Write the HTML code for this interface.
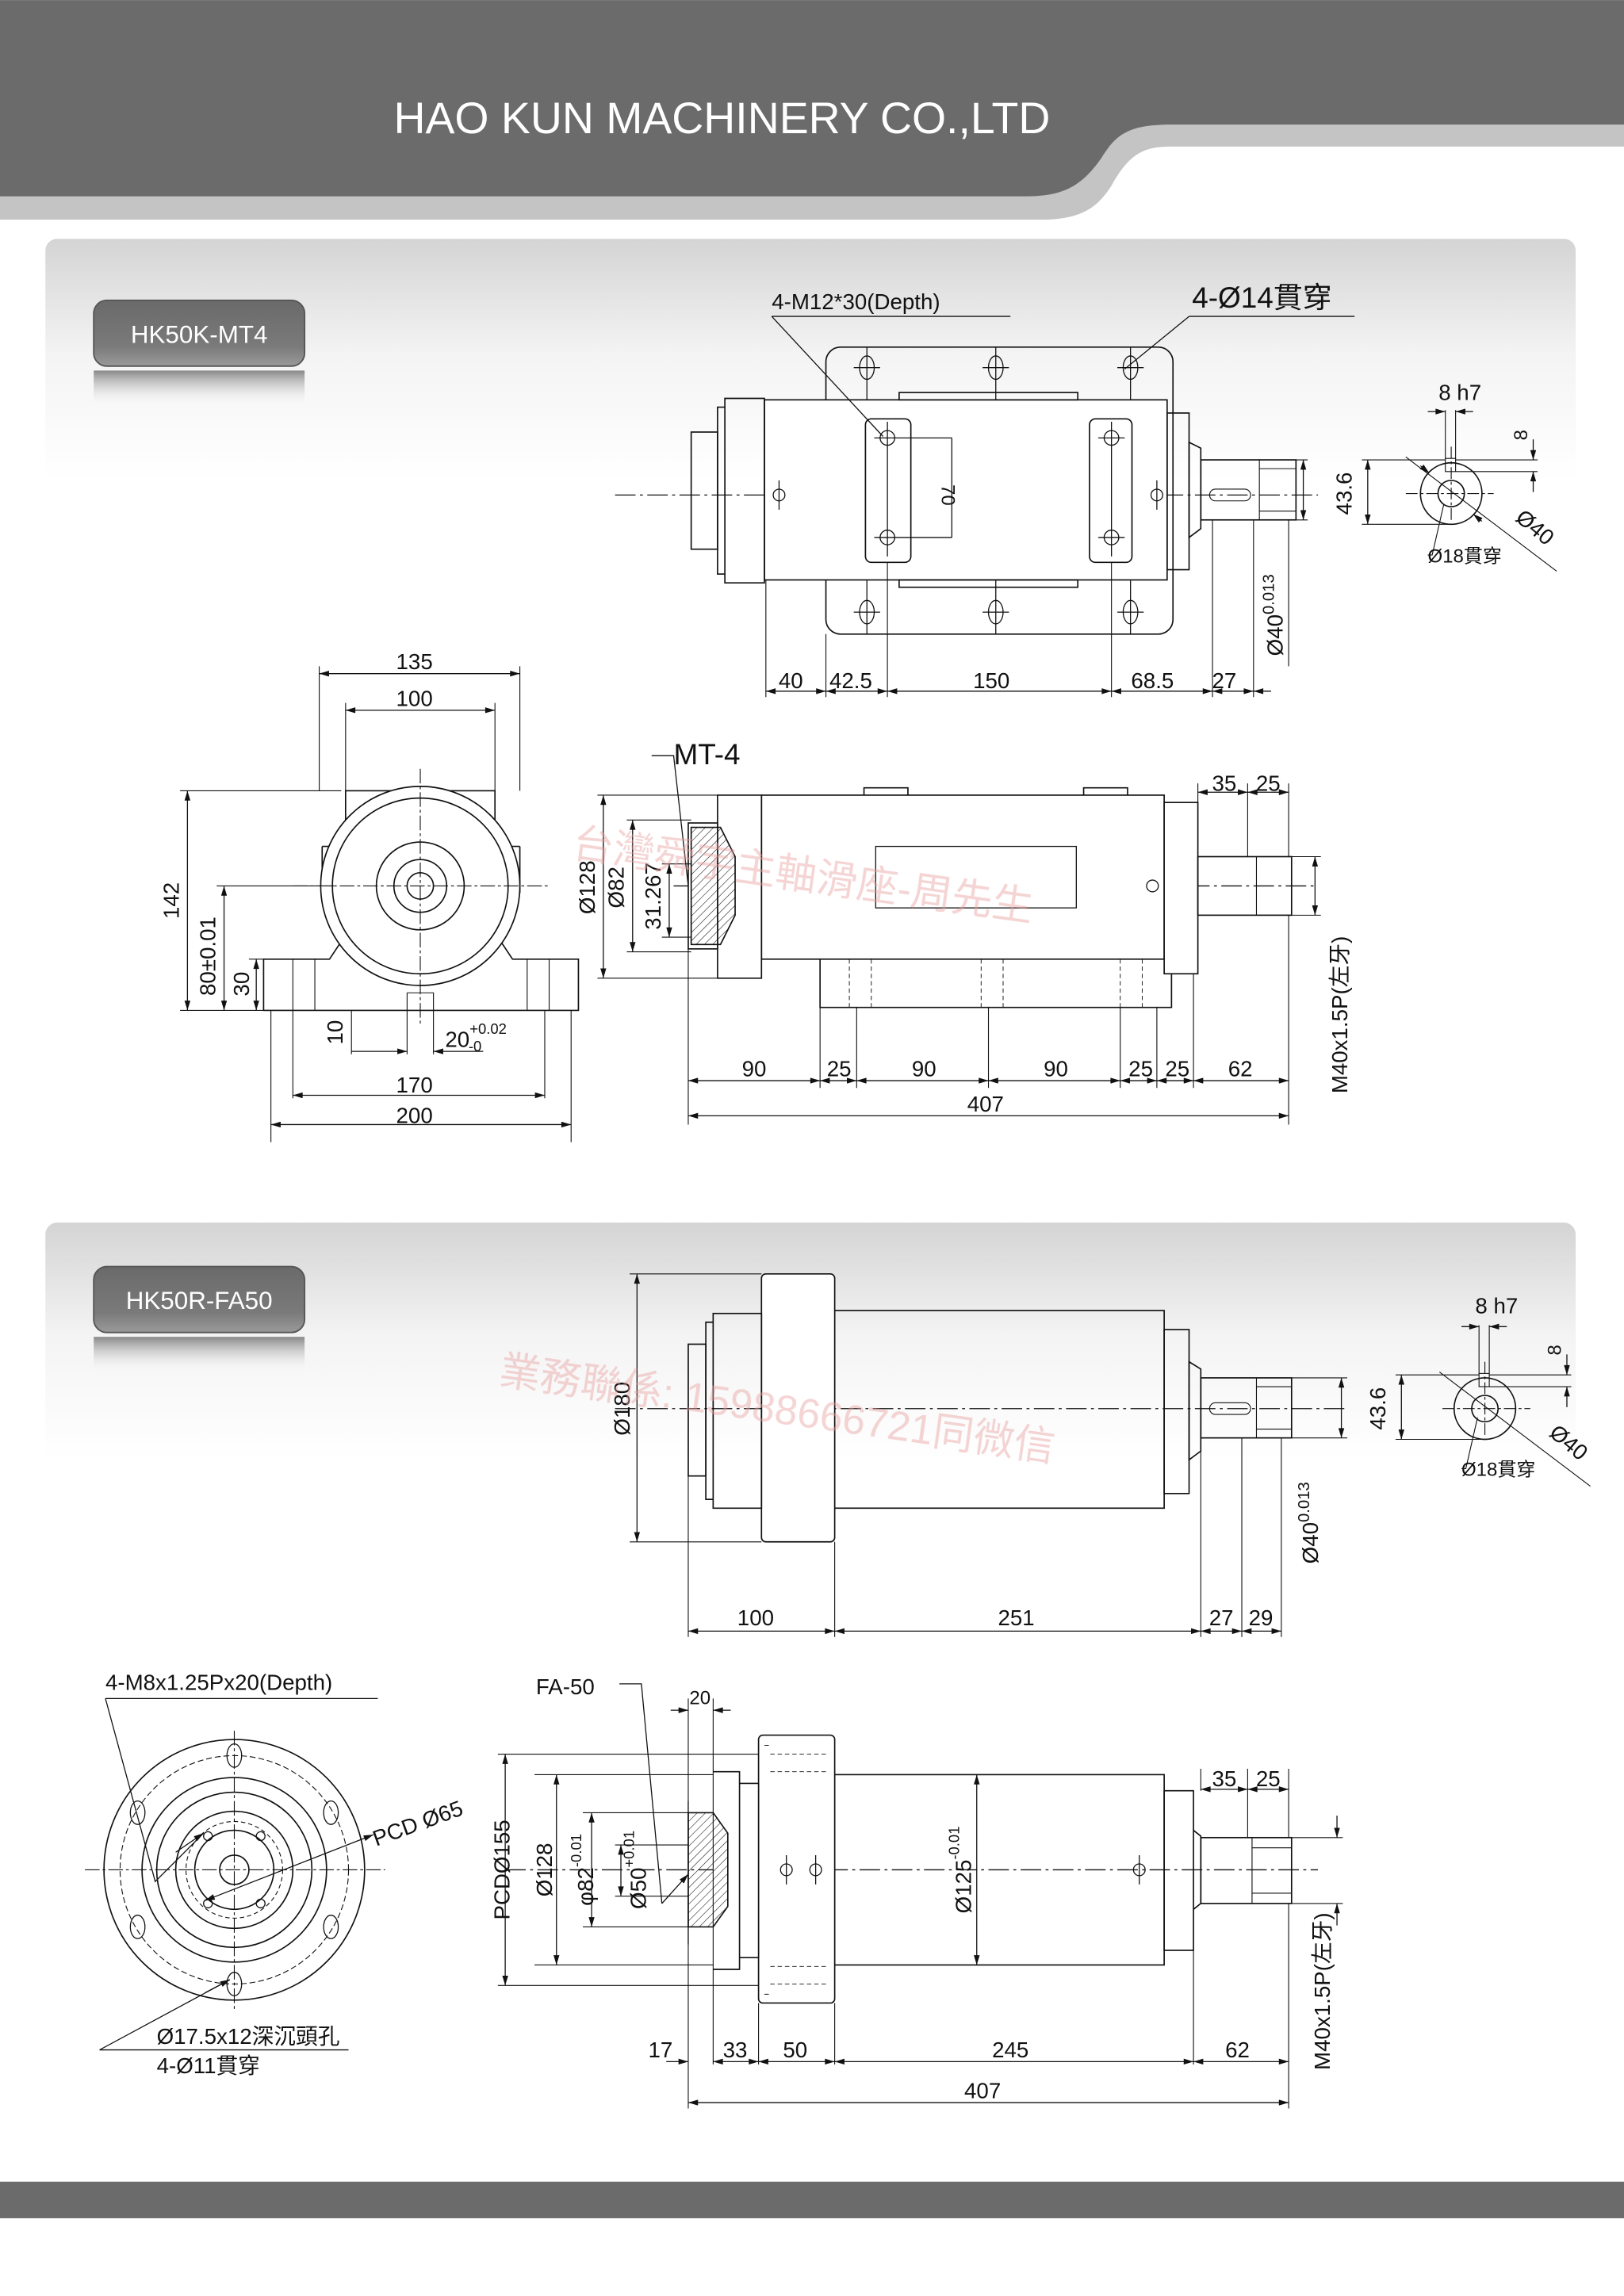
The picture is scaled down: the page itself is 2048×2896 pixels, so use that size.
<!DOCTYPE html>
<html><head><meta charset="utf-8"><style>
html,body{margin:0;padding:0;background:#fff}
svg{display:block}
text{font-family:"Liberation Sans","Noto Sans CJK TC",sans-serif;fill:#111}
</style></head><body>
<svg width="2048" height="2896" viewBox="0 0 1109 1568" xmlns="http://www.w3.org/2000/svg">
<defs>
<marker id="a" viewBox="0 0 10 6" refX="10" refY="3" markerWidth="7" markerHeight="4" orient="auto-start-reverse" markerUnits="userSpaceOnUse"><path d="M0,0L10,3L0,6z" fill="#111"/></marker>
<linearGradient id="pg" x1="0" y1="0" x2="0" y2="1"><stop offset="0" stop-color="#d4d4d4"/><stop offset="0.12" stop-color="#f4f4f4"/><stop offset="0.25" stop-color="#fff"/></linearGradient>
<linearGradient id="lb" x1="0" y1="0" x2="0" y2="1"><stop offset="0" stop-color="#6a6a6a"/><stop offset="0.7" stop-color="#7a7a7a"/><stop offset="1" stop-color="#9a9a9a"/></linearGradient>
<linearGradient id="rf" x1="0" y1="0" x2="0" y2="1"><stop offset="0" stop-color="#888"/><stop offset="1" stop-color="#fff" stop-opacity="0"/></linearGradient>
<pattern id="h" width="4" height="4" patternUnits="userSpaceOnUse" patternTransform="rotate(45)"><line x1="0" y1="0" x2="0" y2="4" stroke="#111" stroke-width="0.6"/></pattern>
</defs>
<!-- header -->
<rect x="0" y="0" width="1109" height="150" fill="#c4c4c4"/>
<path d="M0,0H1109V85H800C770,85 762,92 752,108C738,128 725,134 700,134H0z" fill="#6b6b6b"/>
<path d="M0,150H710C738,150 750,142 760,125C772,104 782,100 800,100H1109V160H0z" fill="#fff"/>
<text x="493" y="91" font-size="30" fill="#fff" style="fill:#fff" text-anchor="middle" font-family="DejaVu Sans">HAO KUN MACHINERY CO.,LTD</text>
<!-- panels -->
<rect x="31" y="163" width="1045" height="660" rx="8" fill="url(#pg)"/>
<rect x="31" y="835" width="1045" height="650" rx="8" fill="url(#pg)"/>
<rect x="64" y="205" width="144" height="45" rx="9" fill="url(#lb)" stroke="#555" stroke-width="1"/>
<rect x="64" y="253" width="144" height="25" fill="url(#rf)"/>
<text x="136" y="234" font-size="17" fill="#fff" style="fill:#fff" text-anchor="middle">HK50K-MT4</text>
<rect x="64" y="865" width="144" height="45" rx="9" fill="url(#lb)" stroke="#555" stroke-width="1"/>
<rect x="64" y="913" width="144" height="25" fill="url(#rf)"/>
<text x="136" y="894" font-size="17" fill="#fff" style="fill:#fff" text-anchor="middle">HK50R-FA50</text>
<rect x="0" y="1490" width="1109" height="25" fill="#6b6b6b"/>

<g fill="none" stroke="#111" stroke-width="0.9">
<!-- ====== Drawing 1 top view ====== -->
<line x1="420" y1="338" x2="900" y2="338" stroke-dasharray="14,3,2,3" stroke-width="0.7"/>
<rect x="564" y="237" width="237" height="196" rx="10"/>
<g stroke-width="0.7">
<ellipse cx="592" cy="251" rx="5" ry="8"/><ellipse cx="680" cy="251" rx="5" ry="8"/><ellipse cx="772" cy="251" rx="5" ry="8"/>
<ellipse cx="592" cy="418" rx="5" ry="8"/><ellipse cx="680" cy="418" rx="5" ry="8"/><ellipse cx="772" cy="418" rx="5" ry="8"/>
<path d="M583,251h18M671,251h18M763,251h18M583,418h18M671,418h18M763,418h18M592,237v36M680,237v36M772,237v36M592,396v37M680,396v37M772,396v37"/>
</g>
<rect x="522" y="273" width="275" height="123" fill="#fff"/>
<rect x="614" y="268" width="122" height="5"/><rect x="614" y="396" width="122" height="5"/>
<path d="M495,272h27v126h-27zM490,278h5v114h-5z"/>
<rect x="472" y="295" width="18" height="80"/>
<rect x="591" y="286" width="31" height="98" rx="4"/><rect x="744" y="286" width="29" height="98" rx="4"/>
<g stroke-width="0.7">
<circle cx="606" cy="299" r="5"/><circle cx="606" cy="367" r="5"/><circle cx="759" cy="299" r="5"/><circle cx="759" cy="367" r="5"/>
<circle cx="532" cy="338" r="4"/><circle cx="790" cy="338" r="4"/>
<path d="M597,299h18M597,367h18M750,299h18M750,367h18M606,288v92M759,288v92M532,328v20M790,328v20M614,299h36M614,367h36"/>
</g>
<line x1="650" y1="299" x2="650" y2="367" stroke-width="0.7"/>
<rect x="797" y="282" width="15" height="107"/>
<path d="M812,302l8,4v55l-8,6z"/>
<rect x="820" y="314" width="65" height="41"/>
<path d="M860,314v41M860,320h25M860,349h25" stroke-width="0.6"/>
<rect x="826" y="334" width="28" height="8" rx="4" stroke-width="0.6"/>
<path d="M885,314h8M885,355h8" stroke-width="0.6"/>
<line x1="890" y1="314" x2="890" y2="355" marker-start="url(#a)" marker-end="url(#a)" stroke-width="0.7"/>
<!-- dims -->
<path d="M523,396v80M564,433v43M606,384v92M759,384v92M828,355v121M856,355v121M880,355v100" stroke-width="0.6"/>
<g stroke-width="0.7">
<line x1="523" y1="472" x2="564" y2="472" marker-start="url(#a)" marker-end="url(#a)"/>
<line x1="564" y1="472" x2="606" y2="472" marker-start="url(#a)" marker-end="url(#a)"/>
<line x1="606" y1="472" x2="759" y2="472" marker-start="url(#a)" marker-end="url(#a)"/>
<line x1="759" y1="472" x2="828" y2="472" marker-start="url(#a)" marker-end="url(#a)"/>
<line x1="828" y1="472" x2="856" y2="472" marker-start="url(#a)" marker-end="url(#a)"/>
<line x1="856" y1="472" x2="868" y2="472" marker-start="url(#a)"/>
</g>
<!-- leaders -->
<path d="M527,216h163M527,216L603,298" stroke-width="0.7"/>
<path d="M812,216h113M812,216L768,252" stroke-width="0.7"/>
<!-- key view 1 -->
<circle cx="991" cy="337" r="21"/><circle cx="991" cy="337" r="9"/>
<rect x="987" y="313" width="7" height="9" stroke-width="0.6"/>
<path d="M960,337h60M991,305v50" stroke-width="0.6" stroke-dasharray="8,2,2,2"/>
<path d="M930,314h57M930,358h61M994,314h56M994,322h56" stroke-width="0.6"/>
<line x1="934" y1="314" x2="934" y2="358" marker-start="url(#a)" marker-end="url(#a)" stroke-width="0.7"/>
<path d="M987,280v33M994,280v33" stroke-width="0.6"/>
<line x1="975" y1="281" x2="987" y2="281" marker-end="url(#a)" stroke-width="0.7"/>
<line x1="1006" y1="281" x2="994" y2="281" marker-end="url(#a)" stroke-width="0.7"/>
<line x1="1047" y1="300" x2="1047" y2="314" marker-end="url(#a)" stroke-width="0.7"/>
<line x1="1047" y1="336" x2="1047" y2="322" marker-end="url(#a)" stroke-width="0.7"/>
<path d="M960,312L1063,390" stroke-width="0.6"/>
<line x1="970" y1="318" x2="976" y2="323" marker-end="url(#a)" stroke-width="0.6"/>
<line x1="1012" y1="356" x2="1006" y2="351" marker-end="url(#a)" stroke-width="0.6"/>
<path d="M975,379h3L986,344" stroke-width="0.6"/>

<!-- ====== Drawing 1 front view ====== -->
<path d="M218,455v85M355,455v85M236,480v60M338,480v60" stroke-width="0.6"/>
<line x1="218" y1="460" x2="355" y2="460" marker-start="url(#a)" marker-end="url(#a)" stroke-width="0.7"/>
<line x1="236" y1="485" x2="338" y2="485" marker-start="url(#a)" marker-end="url(#a)" stroke-width="0.7"/>
<rect x="236" y="540" width="102" height="40"/>
<path d="M220,578h16M338,578h17M220,578v32M355,578v32"/>
<path d="M180,655h45l10,-15h105l10,15h45v35h-215z" fill="#fff"/>
<circle cx="287" cy="605" r="68" fill="#fff"/><circle cx="287" cy="605" r="60"/><circle cx="287" cy="605" r="30"/><circle cx="287" cy="605" r="18"/><circle cx="287" cy="605" r="9"/>
<path d="M200,655v35M215,655v35M360,655v35M375,655v35M278,678h18v12M278,678v12" stroke-width="0.6"/>
<path d="M200,605h174M287,525v175" stroke-width="0.6" stroke-dasharray="10,2,2,2"/>
<path d="M123,540h110M148,605h80M170,655h10M123,690h57M185,690v90M390,690v90M200,690v60M372,690v60M240,690v30M278,690v30M296,690v30" stroke-width="0.6"/>
<line x1="128" y1="540" x2="128" y2="690" marker-start="url(#a)" marker-end="url(#a)" stroke-width="0.7"/>
<line x1="153" y1="605" x2="153" y2="690" marker-start="url(#a)" marker-end="url(#a)" stroke-width="0.7"/>
<line x1="175" y1="655" x2="175" y2="690" marker-start="url(#a)" marker-end="url(#a)" stroke-width="0.7"/>
<line x1="240" y1="718" x2="278" y2="718" marker-end="url(#a)" stroke-width="0.7"/>
<line x1="330" y1="718" x2="296" y2="718" marker-end="url(#a)" stroke-width="0.7"/>
<line x1="200" y1="748" x2="372" y2="748" marker-start="url(#a)" marker-end="url(#a)" stroke-width="0.7"/>
<line x1="185" y1="768" x2="390" y2="768" marker-start="url(#a)" marker-end="url(#a)" stroke-width="0.7"/>

<!-- ====== Drawing 1 side section ====== -->
<line x1="460" y1="605" x2="900" y2="605" stroke-dasharray="14,3,2,3" stroke-width="0.7"/>
<rect x="520" y="543" width="275" height="112" fill="#fff"/>
<path d="M560,655v33h240v-33" />
<path d="M590,543v-5h30v5M740,543v-5h30v5" />
<rect x="598" y="578" width="137" height="42" stroke-width="0.7"/>
<path d="M580,655v33M595,655v33M670,655v33M685,655v33M765,655v33M780,655v33" stroke-width="0.5" stroke-dasharray="3,2"/>
<path d="M490,543h30v125h-30z" fill="#fff"/>
<rect x="470" y="562" width="20" height="86" fill="#fff"/>
<path d="M472,565h20l10,20v40l-10,20h-20z" fill="url(#h)"/>
<circle cx="787" cy="605" r="4" stroke-width="0.7"/>
<rect x="795" y="548" width="23" height="117" fill="#fff"/>
<rect x="818" y="585" width="64" height="40"/>
<path d="M858,585v40" stroke-width="0.6"/>
<path d="M818,548v-13M852,585v-50M880,585v-50" stroke-width="0.6"/>
<line x1="818" y1="541" x2="852" y2="541" marker-start="url(#a)" marker-end="url(#a)" stroke-width="0.7"/>
<line x1="852" y1="541" x2="880" y2="541" marker-start="url(#a)" marker-end="url(#a)" stroke-width="0.7"/>
<path d="M408,543h82M428,560h44M452,590h20M452,640h20M428,650h44M408,668h82M882,585h20M882,625h20" stroke-width="0.6"/>
<line x1="412" y1="543" x2="412" y2="668" marker-start="url(#a)" marker-end="url(#a)" stroke-width="0.7"/>
<line x1="432" y1="560" x2="432" y2="650" marker-start="url(#a)" marker-end="url(#a)" stroke-width="0.7"/>
<line x1="457" y1="590" x2="457" y2="640" marker-start="url(#a)" marker-end="url(#a)" stroke-width="0.7"/>
<line x1="898" y1="585" x2="898" y2="625" marker-start="url(#a)" marker-end="url(#a)" stroke-width="0.7"/>
<path d="M445,516h15L470,605" stroke-width="0.7"/>
<path d="M470,648v120M560,688v55M585,688v55M675,688v55M765,688v55M790,688v55M815,665v78M880,625v143" stroke-width="0.6"/>
<g stroke-width="0.7">
<line x1="470" y1="738" x2="560" y2="738" marker-start="url(#a)" marker-end="url(#a)"/>
<line x1="560" y1="738" x2="585" y2="738" marker-start="url(#a)" marker-end="url(#a)"/>
<line x1="585" y1="738" x2="675" y2="738" marker-start="url(#a)" marker-end="url(#a)"/>
<line x1="675" y1="738" x2="765" y2="738" marker-start="url(#a)" marker-end="url(#a)"/>
<line x1="765" y1="738" x2="790" y2="738" marker-start="url(#a)" marker-end="url(#a)"/>
<line x1="790" y1="738" x2="815" y2="738" marker-start="url(#a)" marker-end="url(#a)"/>
<line x1="815" y1="738" x2="880" y2="738" marker-start="url(#a)" marker-end="url(#a)"/>
<line x1="470" y1="762" x2="880" y2="762" marker-start="url(#a)" marker-end="url(#a)"/>
</g>

<!-- ====== Drawing 2 top view ====== -->
<line x1="420" y1="962" x2="920" y2="962" stroke-dasharray="14,3,2,3" stroke-width="0.7"/>
<rect x="570" y="895" width="225" height="135"/>
<rect x="520" y="870" width="50" height="183" rx="3" fill="#fff"/>
<path d="M487,897h33v133h-33zM482,903h5v121h-5z"/>
<rect x="470" y="918" width="12" height="90"/>
<rect x="795" y="908" width="17" height="112"/>
<path d="M812,930l8,5v56l-8,6z"/>
<rect x="820" y="941" width="62" height="41"/>
<path d="M858,941v41M858,947h24M858,976h24" stroke-width="0.6"/>
<rect x="826" y="958" width="28" height="8" rx="4" stroke-width="0.6"/>
<path d="M430,870h90M430,1053h90M882,941h38M882,982h38" stroke-width="0.6"/>
<line x1="435" y1="870" x2="435" y2="1053" marker-start="url(#a)" marker-end="url(#a)" stroke-width="0.7"/>
<line x1="916" y1="941" x2="916" y2="982" marker-start="url(#a)" marker-end="url(#a)" stroke-width="0.7"/>
<path d="M470,1008v110M570,1053v65M820,982v136M848,982v136M875,982v136" stroke-width="0.6"/>
<g stroke-width="0.7">
<line x1="470" y1="1114" x2="570" y2="1114" marker-start="url(#a)" marker-end="url(#a)"/>
<line x1="570" y1="1114" x2="820" y2="1114" marker-start="url(#a)" marker-end="url(#a)"/>
<line x1="820" y1="1114" x2="848" y2="1114" marker-start="url(#a)" marker-end="url(#a)"/>
<line x1="848" y1="1114" x2="875" y2="1114" marker-start="url(#a)" marker-end="url(#a)"/>
</g>
<!-- key view 2 -->
<circle cx="1014" cy="962" r="21"/><circle cx="1014" cy="962" r="9"/>
<rect x="1010" y="938" width="7" height="9" stroke-width="0.6"/>
<path d="M985,962h60M1014,930v50" stroke-width="0.6" stroke-dasharray="8,2,2,2"/>
<path d="M953,939h57M953,983h61M1017,939h56M1017,947h56" stroke-width="0.6"/>
<line x1="957" y1="939" x2="957" y2="983" marker-start="url(#a)" marker-end="url(#a)" stroke-width="0.7"/>
<path d="M1010,905v33M1017,905v33" stroke-width="0.6"/>
<line x1="998" y1="906" x2="1010" y2="906" marker-end="url(#a)" stroke-width="0.7"/>
<line x1="1029" y1="906" x2="1017" y2="906" marker-end="url(#a)" stroke-width="0.7"/>
<line x1="1070" y1="925" x2="1070" y2="939" marker-end="url(#a)" stroke-width="0.7"/>
<line x1="1070" y1="961" x2="1070" y2="947" marker-end="url(#a)" stroke-width="0.7"/>
<path d="M983,937L1086,1015" stroke-width="0.6"/>
<path d="M998,1003h3L1009,968" stroke-width="0.6"/>

<!-- ====== Drawing 2 front view ====== -->
<circle cx="160" cy="1277" r="89"/><circle cx="160" cy="1277" r="78" stroke-dasharray="4,2" stroke-width="0.6"/>
<circle cx="160" cy="1277" r="63"/><circle cx="160" cy="1277" r="53"/><circle cx="160" cy="1277" r="40"/><circle cx="160" cy="1277" r="27"/><circle cx="160" cy="1277" r="10"/>
<circle cx="160" cy="1277" r="33" stroke-dasharray="3,2" stroke-width="0.6"/>
<path d="M58,1277h205M160,1182v190" stroke-width="0.6" stroke-dasharray="10,2,2,2"/>
<g stroke-width="0.7">
<ellipse cx="160" cy="1199" rx="5" ry="8"/><ellipse cx="160" cy="1355" rx="5" ry="8"/>
<ellipse cx="94" cy="1238" rx="5" ry="8"/><ellipse cx="226" cy="1238" rx="5" ry="8"/>
<ellipse cx="94" cy="1316" rx="5" ry="8"/><ellipse cx="226" cy="1316" rx="5" ry="8"/>
<circle cx="142" cy="1254" r="3"/><circle cx="178" cy="1254" r="3"/><circle cx="142" cy="1300" r="3"/><circle cx="178" cy="1300" r="3"/>
</g>
<path d="M72,1160h186M72,1160L106,1285L139,1252" stroke-width="0.7"/>
<line x1="120" y1="1265" x2="139" y2="1252" marker-end="url(#a)" stroke-width="0.7"/>
<line x1="255" y1="1253" x2="140" y2="1298" marker-start="url(#a)" marker-end="url(#a)" stroke-width="0.7"/>
<path d="M68,1400h170M68,1400L157,1352" stroke-width="0.7"/>
<line x1="140" y1="1361" x2="157" y2="1352" marker-end="url(#a)" stroke-width="0.7"/>

<!-- ====== Drawing 2 side section ====== -->
<line x1="345" y1="1277" x2="900" y2="1277" stroke-dasharray="14,3,2,3" stroke-width="0.7"/>
<rect x="570" y="1212" width="225" height="130"/>
<rect x="518" y="1185" width="52" height="183" rx="3" fill="#fff"/>
<path d="M522,1192h4M522,1362h4M526,1198h40M526,1210h40M526,1343h40M526,1355h40" stroke-width="0.5" stroke-dasharray="3,2"/>
<path d="M505,1218h13v119h-13zM487,1210h18v135h-18" fill="#fff"/>
<path d="M470,1238h17l10,14v50l-10,14h-17z" fill="url(#h)"/>
<path d="M470,1230v98" stroke-width="0.7"/>
<rect x="795" y="1223" width="20" height="109"/>
<path d="M815,1250l5,4v46l-5,4"/>
<rect x="820" y="1255" width="62" height="45"/>
<path d="M855,1255v45M855,1262h27M855,1293h27" stroke-width="0.6"/>
<g stroke-width="0.7">
<circle cx="537" cy="1277" r="4"/><circle cx="557" cy="1277" r="4"/><circle cx="778" cy="1277" r="4"/>
<path d="M537,1267v20M557,1267v20M778,1267v20"/>
</g>
<path d="M340,1198h178M365,1212h122M398,1238h72M420,1260h50M420,1295h50M398,1316h72M365,1342h122M340,1356h178" stroke-width="0.6"/>
<line x1="345" y1="1198" x2="345" y2="1356" marker-start="url(#a)" marker-end="url(#a)" stroke-width="0.7"/>
<line x1="380" y1="1212" x2="380" y2="1342" marker-start="url(#a)" marker-end="url(#a)" stroke-width="0.7"/>
<line x1="404" y1="1238" x2="404" y2="1316" marker-start="url(#a)" marker-end="url(#a)" stroke-width="0.7"/>
<line x1="424" y1="1260" x2="424" y2="1295" marker-start="url(#a)" marker-end="url(#a)" stroke-width="0.7"/>
<line x1="667" y1="1212" x2="667" y2="1342" marker-start="url(#a)" marker-end="url(#a)" stroke-width="0.7"/>
<path d="M882,1255h35M882,1300h35" stroke-width="0.6"/>
<line x1="913" y1="1240" x2="913" y2="1255" marker-end="url(#a)" stroke-width="0.7"/>
<line x1="913" y1="1315" x2="913" y2="1300" marker-end="url(#a)" stroke-width="0.7"/>
<path d="M423,1150h15L452,1300" stroke-width="0.7"/>
<line x1="452" y1="1300" x2="470" y2="1280" marker-end="url(#a)" stroke-width="0.7"/>
<path d="M470,1160v280M487,1160v250M518,1368v42M570,1368v42M815,1332v78M880,1300v140M820,1223v-15M852,1255v-47M880,1255v-47" stroke-width="0.6"/>
<line x1="458" y1="1168" x2="470" y2="1168" marker-end="url(#a)" stroke-width="0.7"/>
<line x1="499" y1="1168" x2="487" y2="1168" marker-end="url(#a)" stroke-width="0.7"/>
<line x1="820" y1="1222" x2="852" y2="1222" marker-start="url(#a)" marker-end="url(#a)" stroke-width="0.7"/>
<line x1="852" y1="1222" x2="880" y2="1222" marker-start="url(#a)" marker-end="url(#a)" stroke-width="0.7"/>
<g stroke-width="0.7">
<line x1="455" y1="1408" x2="470" y2="1408" marker-end="url(#a)"/>
<line x1="487" y1="1408" x2="518" y2="1408" marker-start="url(#a)" marker-end="url(#a)"/>
<line x1="518" y1="1408" x2="570" y2="1408" marker-start="url(#a)" marker-end="url(#a)"/>
<line x1="570" y1="1408" x2="815" y2="1408" marker-start="url(#a)" marker-end="url(#a)"/>
<line x1="815" y1="1408" x2="880" y2="1408" marker-start="url(#a)" marker-end="url(#a)"/>
<line x1="470" y1="1436" x2="880" y2="1436" marker-start="url(#a)" marker-end="url(#a)"/>
</g>
</g>

<!-- ====== Text ====== -->
<g font-size="15">
<text x="527" y="211">4-M12*30(Depth)</text>
<text x="814" y="210" font-size="20">4-Ø14貫穿</text>
<text x="540" y="470" text-anchor="middle">40</text><text x="581" y="470" text-anchor="middle">42.5</text>
<text x="677" y="470" text-anchor="middle">150</text><text x="787" y="470" text-anchor="middle">68.5</text><text x="836" y="470" text-anchor="middle">27</text>
<text transform="translate(643,338) rotate(90)" text-anchor="middle" font-size="13">70</text>
<text transform="translate(876,420) rotate(-90)" text-anchor="middle">Ø40<tspan font-size="11" dy="-6">0.013</tspan></text>
<text x="997" y="273" text-anchor="middle">8 h7</text>
<text transform="translate(923,337) rotate(-90)" text-anchor="middle">43.6</text>
<text transform="translate(1043,297) rotate(-90)" text-anchor="middle" font-size="13">8</text>
<text transform="translate(1045,364) rotate(40)" text-anchor="middle">Ø40</text>
<text x="975" y="384" font-size="13">Ø18貫穿</text>

<text x="283" y="457" text-anchor="middle">135</text>
<text x="283" y="482" text-anchor="middle">100</text>
<text transform="translate(122,615) rotate(-90)" text-anchor="middle">142</text>
<text transform="translate(147,653) rotate(-90)" text-anchor="middle">80±0.01</text>
<text transform="translate(170,672) rotate(-90)" text-anchor="middle">30</text>
<text transform="translate(234,705) rotate(-90)" text-anchor="middle">10</text>
<text x="304" y="715">20<tspan font-size="10" dy="-9">+0.02</tspan><tspan font-size="10" dx="-26" dy="12">-0</tspan></text>
<text x="283" y="746" text-anchor="middle">170</text>
<text x="283" y="767" text-anchor="middle">200</text>

<text x="460" y="522" font-size="20">MT-4</text>
<text transform="translate(406,606) rotate(-90)" text-anchor="middle">Ø128</text>
<text transform="translate(426,606) rotate(-90)" text-anchor="middle">Ø82</text>
<text transform="translate(451,612) rotate(-90)" text-anchor="middle">31.267</text>
<text x="836" y="540" text-anchor="middle">35</text><text x="866" y="540" text-anchor="middle">25</text>
<text x="515" y="735" text-anchor="middle">90</text><text x="573" y="735" text-anchor="middle">25</text>
<text x="631" y="735" text-anchor="middle">90</text><text x="721" y="735" text-anchor="middle">90</text>
<text x="779" y="735" text-anchor="middle">25</text><text x="804" y="735" text-anchor="middle">25</text><text x="847" y="735" text-anchor="middle">62</text>
<text x="673" y="759" text-anchor="middle">407</text>
<text transform="translate(920,693) rotate(-90)" text-anchor="middle">M40x1.5P(左牙)</text>

<text transform="translate(430,962) rotate(-90)" text-anchor="middle">Ø180</text>
<text x="516" y="1110" text-anchor="middle">100</text><text x="694" y="1110" text-anchor="middle">251</text>
<text x="834" y="1110" text-anchor="middle">27</text><text x="861" y="1110" text-anchor="middle">29</text>
<text transform="translate(900,1040) rotate(-90)" text-anchor="middle">Ø40<tspan font-size="11" dy="-6">0.013</tspan></text>
<text x="1022" y="897" text-anchor="middle">8 h7</text>
<text transform="translate(946,962) rotate(-90)" text-anchor="middle">43.6</text>
<text transform="translate(1066,922) rotate(-90)" text-anchor="middle" font-size="13">8</text>
<text transform="translate(1068,989) rotate(40)" text-anchor="middle">Ø40</text>
<text x="998" y="1008" font-size="13">Ø18貫穿</text>

<text x="72" y="1154">4-M8x1.25Px20(Depth)</text>
<text transform="translate(287,1250) rotate(-20)" text-anchor="middle">PCD Ø65</text>
<text x="107" y="1396">Ø17.5x12深沉頭孔</text>
<text x="107" y="1416">4-Ø11貫穿</text>
<text x="386" y="1157" text-anchor="middle">FA-50</text>
<text x="478" y="1164" text-anchor="middle" font-size="13">20</text>
<text transform="translate(348,1277) rotate(-90)" text-anchor="middle">PCDØ155</text>
<text transform="translate(377,1277) rotate(-90)" text-anchor="middle">Ø128</text>
<text transform="translate(405,1277) rotate(-90)" text-anchor="middle">φ82<tspan font-size="10" dy="-8">-0.01</tspan></text>
<text transform="translate(441,1277) rotate(-90)" text-anchor="middle">Ø50<tspan font-size="10" dy="-8">+0.01</tspan></text>
<text transform="translate(663,1277) rotate(-90)" text-anchor="middle">Ø125<tspan font-size="10" dy="-8">-0.01</tspan></text>
<text x="836" y="1220" text-anchor="middle">35</text><text x="866" y="1220" text-anchor="middle">25</text>
<text x="451" y="1405" text-anchor="middle">17</text><text x="502" y="1405" text-anchor="middle">33</text>
<text x="543" y="1405" text-anchor="middle">50</text><text x="690" y="1405" text-anchor="middle">245</text><text x="845" y="1405" text-anchor="middle">62</text>
<text x="671" y="1433" text-anchor="middle">407</text>
<text transform="translate(908,1360) rotate(-90)" text-anchor="middle">M40x1.5P(左牙)</text>
</g>

<!-- watermarks -->
<g font-family="'Noto Serif CJK SC',serif" font-size="28" fill="#e9a0a0" opacity="0.45">
<text transform="translate(390,585) rotate(8)" style="fill:#e9a0a0">台灣舜宇主軸滑座-周先生</text>
<text transform="translate(340,945) rotate(8)" style="fill:#e9a0a0">業務聯係: 15988666721同微信</text>
</g>
</svg>
</body></html>
